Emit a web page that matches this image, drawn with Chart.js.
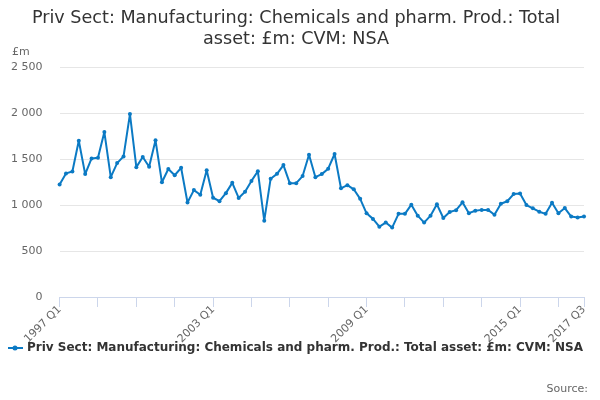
<!DOCTYPE html>
<html>
<head>
<meta charset="utf-8">
<script src="https://cdn.jsdelivr.net/npm/chart.js@4"></script>
<style>
  html, body { margin: 0; padding: 0; background: #fff; }
  #wrap { width: 600px; height: 400px; }
</style>
</head>
<body>
<div id="wrap"><canvas id="chart"></canvas></div>
<script>
// quarters 1997 Q1 .. 2017 Q3
const years = [];
for (let y = 1997; y <= 2017; y++) years.push(y);
const quarters = ['Q1', 'Q2', 'Q3', 'Q4'];

const labels = [];
years.forEach(y => quarters.forEach(q => labels.push(y + ' ' + q)));
labels.length = 83;

const shownLabels = ['1997 Q1', '2003 Q1', '2009 Q1', '2015 Q1', '2017 Q3'];

const totalAssets = [
  1225, 1345, 1365, 1700, 1337, 1508, 1514, 1795,
  1304, 1457, 1530, 1990, 1413, 1524, 1418, 1705,
  1248, 1393, 1325, 1406, 1028, 1163, 1113, 1380,
  1080, 1043, 1130, 1242, 1078, 1145, 1263, 1368,
  830, 1287, 1340, 1435, 1237, 1239, 1316, 1548,
  1304, 1337, 1396, 1556, 1183, 1217, 1172, 1068,
  910, 850, 765, 810, 755, 905, 905, 1005,
  885, 810, 885, 1008, 860, 925, 945, 1030,
  912, 938, 948, 948, 895, 1015, 1042, 1120,
  1127, 1000, 965, 928, 905, 1025, 912, 968,
  875, 865, 875
];

const yTicks = [0, 500, 1000, 1500, 2000, 2500];

const seriesName = 'Priv Sect: Manufacturing: Chemicals and pharm. Prod.: Total asset: £m: CVM: NSA';
const blue = '#0b7ac4';

// legend symbol: line with a dot
function legendSymbol() {
  let c = document.createElement('canvas');
  c.width = 16; c.height = 8;
  let g = c.getContext('2d');
  g.strokeStyle = blue;
  g.lineWidth = 2;
  g.beginPath(); g.moveTo(0, 4); g.lineTo(16, 4); g.stroke();
  g.fillStyle = blue;
  g.beginPath(); g.arc(8, 4, 2.5, 0, Math.PI * 2); g.fill();
  return c;
}

const extraText = {
  id: 'extraText',
  afterLayout(chart) {
    // pull the legend up a bit, the rotated x labels need the room
    chart.legend.top -= 3;
    chart.legend.bottom -= 3;
  },
  afterDraw(chart) {
    const ctx = chart.ctx;
    ctx.save();
    ctx.font = '11px "DejaVu Sans"';
    ctx.fillStyle = '#666';
    ctx.textBaseline = 'middle';
    ctx.textAlign = 'left';
    ctx.fillText('£m', 12, 52);
    ctx.textAlign = 'right';
    ctx.fillText('Source:', 588, 389);
    ctx.restore();
  }
};

const data = {
  labels: labels,
  datasets: [{
    label: seriesName,
    data: totalAssets,
    borderColor: blue,
    backgroundColor: blue,
    borderWidth: 2,
    borderJoinStyle: 'round',
    borderCapStyle: 'round',
    pointRadius: 2,
    pointStyle: 'circle',
    pointBackgroundColor: blue,
    pointBorderWidth: 0,
    tension: 0
  }]
};

const config = {
  type: 'line',
  data: data,
  plugins: [extraText],
  options: {
    responsive: true,
    maintainAspectRatio: false,
    animation: false,
    layout: { padding: { left: 8, right: 16, top: 0, bottom: 33 } },
    plugins: {
      title: {
        display: true,
        text: ['Priv Sect: Manufacturing: Chemicals and pharm. Prod.: Total', 'asset: £m: CVM: NSA'],
        color: '#333',
        font: { family: 'DejaVu Sans', size: 17.6, weight: 'normal', lineHeight: 1.2 },
        padding: { top: 8, bottom: 17 }
      },
      legend: {
        position: 'bottom',
        labels: {
          usePointStyle: true,
          pointStyle: legendSymbol(),
          color: '#333',
          font: { family: 'DejaVu Sans', size: 12, weight: 'bold' },
          padding: 2
        }
      },
      tooltip: { enabled: false }
    },
    scales: {
      x: {
        offset: false,
        grid: {
          drawOnChartArea: false,
          tickLength: 10,
          color: ctx => (ctx.index % 6 === 0 || ctx.index === labels.length - 1) ? '#ccd6eb' : 'transparent'
        },
        border: { color: '#ccd6eb' },
        ticks: {
          autoSkip: false,
          maxRotation: 45,
          minRotation: 45,
          padding: -4,
          color: '#666',
          font: { family: 'DejaVu Sans', size: 11 },
          callback: function (v, i) {
            return shownLabels.includes(labels[i]) ? labels[i] : '';
          }
        },
        afterFit: s => { s.height = 46; }
      },
      y: {
        min: 0,
        max: 2500,
        afterBuildTicks: s => { s.ticks = yTicks.map(v => ({ value: v })); },
        grid: { color: '#e6e6e6', drawTicks: false },
        border: { display: false },
        ticks: {
          color: '#666',
          padding: 17,
          font: { family: 'DejaVu Sans', size: 11 },
          callback: v => String(v).replace(/\B(?=(\d{3})+(?!\d))/g, ' ')
        },
        afterFit: s => { s.width = 51.6; }
      }
    }
  }
};

const myChart = new Chart(document.getElementById('chart'), config);
</script>
</body>
</html>
